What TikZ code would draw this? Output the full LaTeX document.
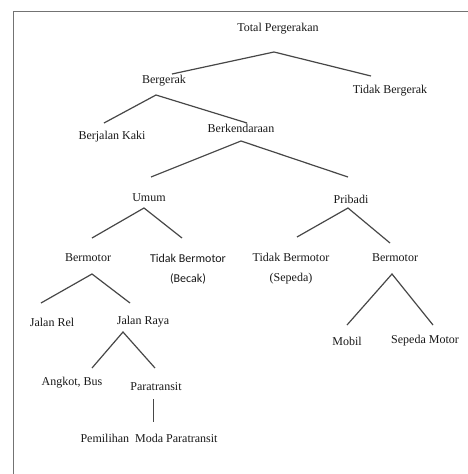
\documentclass[tikz,border=0pt]{standalone}
\usepackage{fontspec}
\setmainfont{Liberation Serif}
\newfontfamily\calib{Carlito}
\begin{document}
\begin{tikzpicture}[x=1pt,y=-1pt,
  lbl/.style={inner sep=0pt,font=\fontsize{12}{15}\selectfont,text=black!90,align=center},
  twoline/.style={lbl,font=\fontsize{12}{20}\selectfont},
  lblsans/.style={lbl,font=\calib\fontsize{12}{20}\selectfont},
  edge/.style={draw=black!72,line width=1.2pt},
  frame/.style={draw=black!55,line width=1pt}]
\useasboundingbox (0,0) rectangle (468,474);
\fill[white] (0,0) rectangle (468,474);
\draw[frame] (13,474) -- (13,11) -- (468,11);
% nodes
\node[lbl] (tp) at (278,29) {Total Pergerakan};
\node[lbl] (bg) at (164,81) {Bergerak};
\node[lbl] (tb) at (390,91) {Tidak Bergerak};
\node[lbl] (bk) at (112,137) {Berjalan Kaki};
\node[lbl] (bd) at (241,128) {Berkendaraan};
\node[lbl] (um) at (149,198) {Umum};
\node[lbl] (pr) at (351,199) {Pribadi};
\node[lbl] (bm1) at (88,258) {Bermotor};
\node[lblsans] (tbb) at (188,269) {Tidak Bermotor\\(Becak)};
\node[twoline] (tbs) at (291,269) {Tidak Bermotor\\(Sepeda)};
\node[lbl] (bm2) at (395,258) {Bermotor};
\node[lbl] (jr) at (52,322) {Jalan Rel};
\node[lbl] (jy) at (143,322) {Jalan Raya};
\node[lbl] (mb) at (347,341) {Mobil};
\node[lbl] (sm) at (425,341) {Sepeda Motor};
\node[lbl] (ab) at (72,383) {Angkot, Bus};
\node[lbl] (pt) at (156,387) {Paratransit};
\node[lbl] (pm) at (149,438) {Pemilihan~ Moda Paratransit};
% junction coordinates
\coordinate (j1) at (274,52);
\coordinate (j2) at (156,95);
\coordinate (j3) at (241,141);
\coordinate (j4) at (144,208);
\coordinate (j5) at (348,208);
\coordinate (j6) at (92,274);
\coordinate (j7) at (392,274);
\coordinate (j8) at (123,332);
\coordinate (j9) at (153,399);
% end coordinates
\coordinate (e1) at (172,74);
\coordinate (e2) at (371,76);
\coordinate (e3) at (104,123);
\coordinate (e4) at (247,123);
\coordinate (e5) at (151,177);
\coordinate (e6) at (348,177);
\coordinate (e7) at (92,238);
\coordinate (e8) at (182,238);
\coordinate (e9) at (297,237);
\coordinate (e10) at (390,243);
\coordinate (e11) at (41,303);
\coordinate (e12) at (130,303);
\coordinate (e13) at (347,325);
\coordinate (e14) at (433,325);
\coordinate (e15) at (92,368);
\coordinate (e16) at (155,368);
\coordinate (e17) at (153,422);
% connectors
\draw[edge] (e1) -- (j1) -- (e2);
\draw[edge] (e3) -- (j2) -- (e4);
\draw[edge] (e5) -- (j3) -- (e6);
\draw[edge] (e7) -- (j4) -- (e8);
\draw[edge] (e9) -- (j5) -- (e10);
\draw[edge] (e11) -- (j6) -- (e12);
\draw[edge] (e13) -- (j7) -- (e14);
\draw[edge] (e15) -- (j8) -- (e16);
\draw[edge,line width=0.9pt] (j9) -- (e17);
\end{tikzpicture}
\end{document}
